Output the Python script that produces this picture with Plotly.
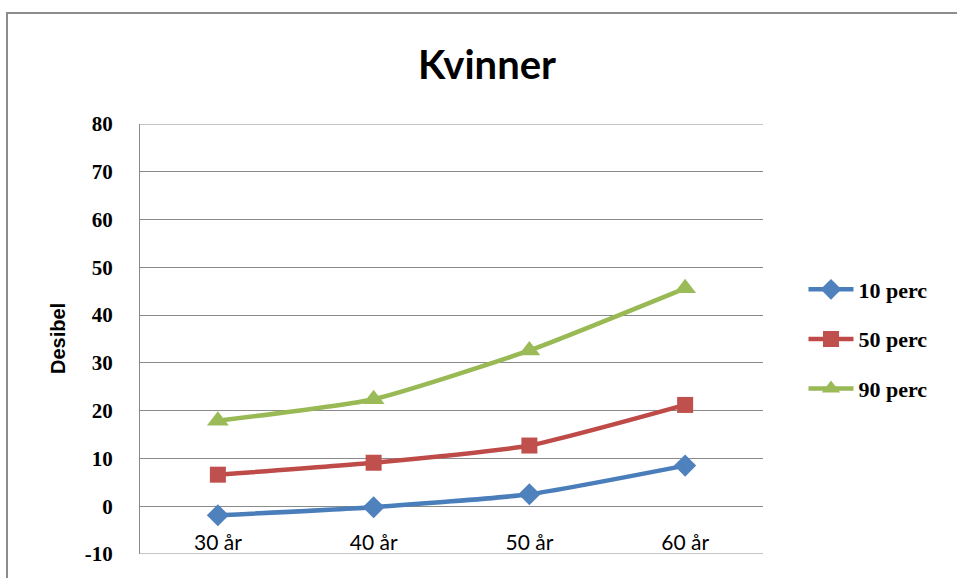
import plotly.graph_objects as go

# Hearing threshold percentiles for women by age group
ages = ["30 år", "40 år", "50 år", "60 år"]
p10 = [-1.9, -0.2, 2.5, 8.5]
p50 = [6.6, 9.1, 12.7, 21.2]
p90 = [17.9, 22.4, 32.6, 45.6]

y_min, y_max = -10, 80
y_ticks = [-10, 0, 10, 20, 30, 40, 50, 60, 70, 80]
y_labels = ["-10", "0", "10", "20", "30", "40", "50", "60", "70", "80"]

series = [
    ("10 perc", p10, "#4A7EBB", "#4F81BD", "diamond", 17),
    ("50 perc", p50, "#BE4B48", "#C0504D", "square", 16),
    ("90 perc", p90, "#98B954", "#9BBB59", "triangle-up", 19),
]

fig = go.Figure()
for name, vals, lcol, mcol, sym, msize in series:
    fig.add_trace(go.Scatter(
        x=ages, y=vals, name=name, legendgroup=name,
        mode="lines+markers",
        line=dict(color=lcol, width=4.5, shape="spline", smoothing=0.5),
        marker=dict(symbol=sym, size=msize, color=mcol, line=dict(width=0)),
    ))

W, H = 957, 578
L, R, T, B = 140, 194, 124, 20
GRID = "#8a8a8a"

# gridlines along the top and bottom edges of the plot area
edge_lines = [dict(type="line", xref="paper", yref="y", x0=0, x1=1, y0=v, y1=v,
                   line=dict(color=GRID, width=1), layer="below") for v in (y_min, y_max)]

frame = dict(type="rect", xref="paper", yref="paper",
             x0=(7 - L) / (W - L - R), x1=1.6, y0=-0.5, y1=(H - B - 12) / (H - T - B),
             line=dict(color="#8c8c8c", width=2), fillcolor="rgba(0,0,0,0)", layer="below")

fig.update_layout(
    width=W, height=H,
    margin=dict(l=L, r=R, t=T, b=B, pad=0),
    paper_bgcolor="white", plot_bgcolor="white",
    title=dict(text="<b>Kvinner</b>", x=(487 - L) / (W - L - R), xref="paper", xanchor="center",
               y=1 - 65 / H, yref="container", yanchor="middle",
               font=dict(family="Lato", size=40, color="black")),
    showlegend=True,
    legend=dict(x=1.065, xanchor="left", y=0.5, yanchor="middle",
                font=dict(family="Liberation Serif", size=22, color="black", weight="bold"),
                tracegroupgap=18, itemwidth=45, bgcolor="rgba(0,0,0,0)"),
    xaxis=dict(type="category", range=[-0.5, 3.5], anchor="free", position=10 / 90,
               showgrid=False, showline=False, zeroline=False, ticks="",
               tickfont=dict(family="Lato", size=21, color="black"),
               ticklabelstandoff=22),
    yaxis=dict(range=[y_min, y_max], tickvals=y_ticks, ticktext=y_labels,
               showgrid=True, gridcolor=GRID, gridwidth=1,
               zeroline=False, showline=True, linecolor=GRID, linewidth=1, ticks="",
               tickfont=dict(family="Liberation Serif", size=21, color="black", weight="bold"),
               ticklabelstandoff=22),
    annotations=[dict(text="<b>Desibel</b>", textangle=-90, xref="paper", yref="paper",
                      x=(58 - L) / (W - L - R), y=0.5, xanchor="center", yanchor="middle",
                      showarrow=False, font=dict(family="Liberation Sans", size=20, color="black"))],
    shapes=[frame] + edge_lines,
)

fig.write_html("out.html")
